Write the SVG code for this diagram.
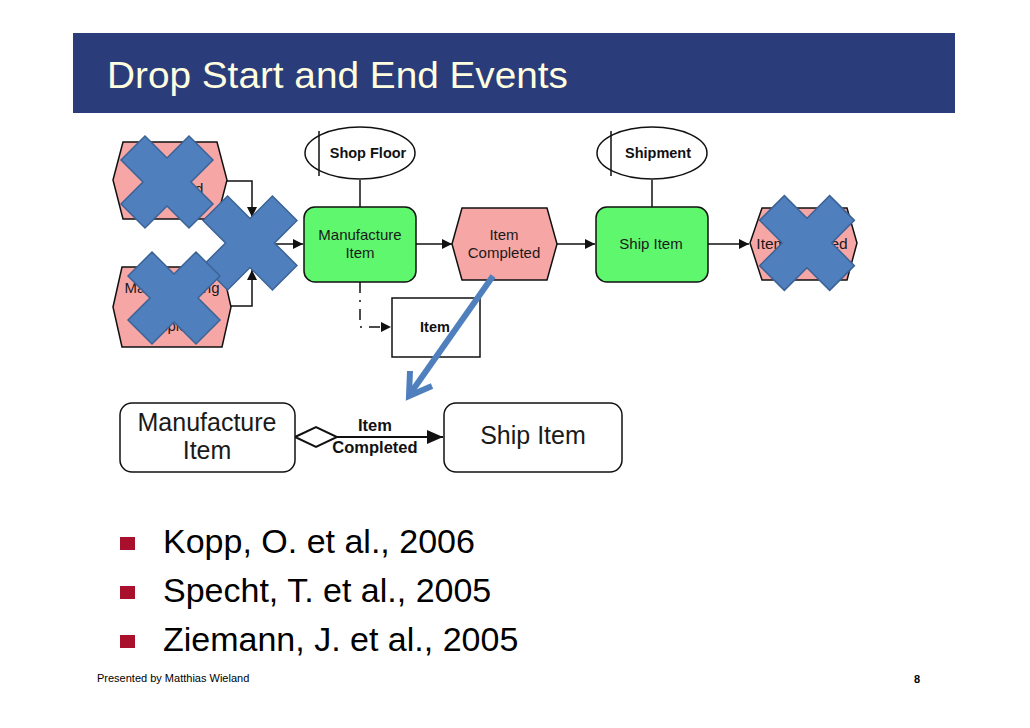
<svg xmlns="http://www.w3.org/2000/svg" width="1030" height="728" viewBox="0 0 1030 728">
<style>
.hex{fill:#F7A6A6;stroke:#111;stroke-width:1.5}
.fn{fill:#5FF76E;stroke:#111;stroke-width:1.5}
.org{fill:#fff;stroke:#111;stroke-width:1.5}
.t{font-family:"Liberation Sans",Arial,sans-serif;fill:#1a1a1a;text-anchor:middle}
.tb{font-family:"Liberation Sans",Arial,sans-serif;font-weight:bold;fill:#111;text-anchor:middle}
.con{fill:none;stroke:#111;stroke-width:1.5}
.xx{fill:#4F7FBD;stroke:#3C6396;stroke-width:1.5}
.bul{fill:#A8102C}
.big{font-family:"Liberation Sans",Arial,sans-serif;font-size:34px;fill:#000}
</style>
<defs>
<marker id="ah" viewBox="0 0 10 10" refX="10" refY="5" markerWidth="10" markerHeight="10" markerUnits="userSpaceOnUse" orient="auto">
<path d="M0,0 L10,5 L0,10 Z" fill="#111"/>
</marker>
<marker id="ahb" viewBox="0 0 16 14" refX="16" refY="7" markerWidth="16" markerHeight="14" markerUnits="userSpaceOnUse" orient="auto">
<path d="M0,0 L16,7 L0,14 Z" fill="#111"/>
</marker>
<polygon id="xshape" points="-22,-46 0,-24 22,-46 46,-22 24,0 46,22 22,46 0,24 -22,46 -46,22 -24,0 -46,-22"/>
</defs>

<g id="title">
<rect x="73" y="33" width="882" height="80" fill="#2B3C7A"/>
<text x="107" y="88" font-family="Liberation Sans, Arial, sans-serif" font-size="37" fill="#FFFFE0" textLength="461" lengthAdjust="spacingAndGlyphs">Drop Start and End Events</text>
</g>

<g id="connectors">
<polyline class="con" points="227,181 252,181 252,217" marker-end="url(#ah)"/>
<polyline class="con" points="231,306 252,306 252,270" marker-end="url(#ah)"/>
<line class="con" x1="265" y1="244" x2="303" y2="244" marker-end="url(#ah)"/>
<line class="con" x1="360" y1="180" x2="360" y2="207"/>
<line class="con" x1="652" y1="180" x2="652" y2="207"/>
<line class="con" x1="416" y1="244" x2="452" y2="244" marker-end="url(#ah)"/>
<line class="con" x1="557" y1="244" x2="595" y2="244" marker-end="url(#ah)"/>
<line class="con" x1="708" y1="244" x2="749" y2="244" marker-end="url(#ah)"/>
<polyline class="con" points="360,282 360,327 391,327" stroke-dasharray="11,7,2,7" marker-end="url(#ah)"/>
<line x1="337" y1="437" x2="443" y2="437" stroke="#111" stroke-width="2" marker-end="url(#ahb)"/>
<polygon points="295,437 316,427 337,437 316,447" fill="#fff" stroke="#111" stroke-width="2"/>
</g>

<g id="start1">
<polygon class="hex" points="113,180 123,142 217,142 227,180 217,219 123,219"/>
<text class="t" font-size="15" x="172" y="176">Order</text>
<text class="t" font-size="15" x="172" y="194">Received</text>
</g>
<g id="start2">
<polygon class="hex" points="113,307 122,267 222,267 231,307 222,347 122,347"/>
<text class="t" font-size="15" x="172" y="293">Manufacturing</text>
<text class="t" font-size="15" x="172" y="331">Completed</text>
</g>

<g id="shopfloor">
<ellipse class="org" cx="360" cy="153" rx="55" ry="26"/>
<line x1="319" y1="131" x2="319" y2="176" stroke="#111" stroke-width="1.5"/>
<text class="tb" font-size="14.5" x="368" y="158">Shop Floor</text>
</g>
<g id="manufacture">
<rect class="fn" x="304" y="207" width="112" height="75" rx="11"/>
<text class="t" font-size="15" x="360" y="240">Manufacture</text>
<text class="t" font-size="15" x="360" y="258">Item</text>
</g>
<g id="itemdata">
<rect x="392" y="298" width="88" height="59" fill="#fff" stroke="#111" stroke-width="1.5"/>
<text class="tb" font-size="14.5" x="435" y="332">Item</text>
</g>
<g id="itemcompleted">
<polygon class="hex" points="452,244 462,208 547,208 557,244 547,280 462,280"/>
<text class="t" font-size="15" x="504" y="240">Item</text>
<text class="t" font-size="15" x="504" y="258">Completed</text>
</g>
<g id="shipment">
<ellipse class="org" cx="652" cy="153" rx="55" ry="26"/>
<line x1="611" y1="131" x2="611" y2="176" stroke="#111" stroke-width="1.5"/>
<text class="tb" font-size="14.5" x="658" y="158">Shipment</text>
</g>
<g id="shipitem">
<rect class="fn" x="596" y="207" width="112" height="75" rx="11"/>
<text class="t" font-size="15" x="651" y="249">Ship Item</text>
</g>
<g id="itemshipped">
<polygon class="hex" points="750,243 762,208 847,208 857,243 847,280 762,280"/>
<text class="t" font-size="15.5" x="802" y="249">Item Shipped</text>
</g>

<g id="crosses">
<use href="#xshape" class="xx" transform="translate(167,182)"/>
<use href="#xshape" class="xx" transform="translate(250,243) scale(1.02)"/>
<use href="#xshape" class="xx" transform="translate(174,298)"/>
<use href="#xshape" class="xx" transform="translate(807,243) scale(1.03)"/>
</g>

<g id="bluearrow" fill="none" stroke="#4F7FBD" stroke-width="6">
<line x1="493" y1="276" x2="410" y2="394"/>
<polyline points="410,371 409,396 432,386" stroke-linejoin="miter"/>
</g>

<g id="b_manufacture">
<rect x="120" y="403" width="175" height="69" rx="12" fill="#fff" stroke="#111" stroke-width="1.5"/>
<text class="t" font-size="25" x="207" y="431" fill="#000">Manufacture</text>
<text class="t" font-size="25" x="207" y="459" fill="#000">Item</text>
</g>
<g id="b_label">
<text class="tb" font-size="16.5" x="375" y="431">Item</text>
<text class="tb" font-size="16.5" x="375" y="453">Completed</text>
</g>
<g id="b_ship">
<rect x="444" y="403" width="178" height="69" rx="12" fill="#fff" stroke="#111" stroke-width="1.5"/>
<text class="t" font-size="25" x="533" y="444" fill="#000">Ship Item</text>
</g>

<g id="bullets">
<rect class="bul" x="120" y="537" width="15" height="13"/>
<rect class="bul" x="120" y="586" width="15" height="13"/>
<rect class="bul" x="120" y="635" width="15" height="13"/>
<text class="big" x="163" y="553">Kopp, O. et al., 2006</text>
<text class="big" x="163" y="602">Specht, T. et al., 2005</text>
<text class="big" x="163" y="651">Ziemann, J. et al., 2005</text>
</g>

<g id="footer">
<text x="97" y="682" font-family="Liberation Sans, Arial, sans-serif" font-size="11" fill="#000">Presented by Matthias Wieland</text>
<text x="917" y="683" font-family="Liberation Sans, Arial, sans-serif" font-size="11" font-weight="bold" fill="#000" text-anchor="middle">8</text>
</g>
</svg>
